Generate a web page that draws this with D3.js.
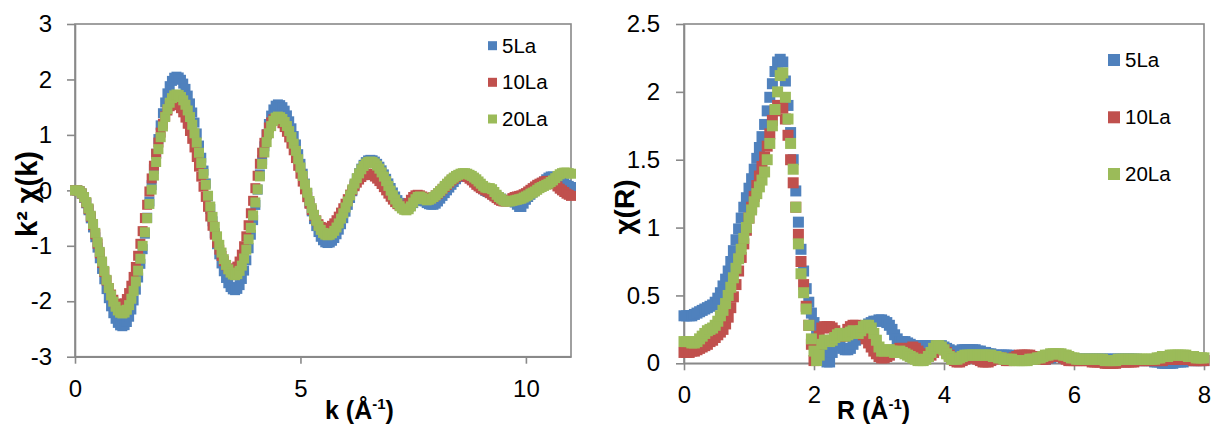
<!DOCTYPE html>
<html><head><meta charset="utf-8">
<script src="https://cdn.jsdelivr.net/npm/d3@7"></script>
<style>html,body{margin:0;padding:0;background:#fff;}svg{display:block;}</style>
</head><body>
<svg id="c" width="1211" height="425"></svg>
<script>
// ---------- data ----------
const seriesNames = ["5La", "10La", "20La"];
const seriesColors = ["#4F81BD", "#C0504D", "#9BBB59"];

// k-space, k = i * kStep (Å^-1)
const kStep = 0.05;
const k5La = [
0,0,-0.015,-0.06,-0.134,-0.234,-0.359,-0.505,-0.669,-0.846,
-1.033,-1.225,-1.417,-1.604,-1.781,-1.945,-2.091,-2.216,-2.316,-2.39,
-2.435,-2.45,-2.431,-2.374,-2.279,-2.149,-1.985,-1.791,-1.572,-1.325,
-1.061,-0.782,-0.494,-0.2,0.094,0.382,0.661,0.925,1.172,1.391,
1.585,1.749,1.879,1.974,2.031,2.05,2.036,1.994,1.925,1.83,
1.709,1.568,1.404,1.222,1.026,0.808,0.588,0.357,0.125,-0.107,
-0.338,-0.558,-0.77,-0.972,-1.154,-1.318,-1.459,-1.58,-1.675,-1.744,
-1.786,-1.8,-1.777,-1.709,-1.598,-1.447,-1.261,-1.044,-0.8,-0.537,
-0.263,0.013,0.287,0.55,0.794,1.011,1.197,1.348,1.459,1.527,
1.55,1.537,1.5,1.437,1.352,1.245,1.119,0.979,0.828,0.652,
0.478,0.3,0.122,-0.052,-0.228,-0.379,-0.519,-0.645,-0.752,-0.837,
-0.9,-0.937,-0.95,-0.94,-0.909,-0.86,-0.792,-0.709,-0.611,-0.502,
-0.385,-0.262,-0.138,-0.016,0.102,0.211,0.309,0.392,0.46,0.509,
0.54,0.55,0.542,0.518,0.478,0.426,0.361,0.288,0.208,0.125,
0.042,-0.038,-0.111,-0.176,-0.226,-0.268,-0.292,-0.3,-0.3,-0.27,
-0.23,-0.19,-0.16,-0.15,-0.17,-0.2,-0.23,-0.25,-0.26,-0.26,
-0.24,-0.2,-0.15,-0.1,-0.05,0,0.05,0.1,0.15,0.2,
0.24,0.27,0.28,0.28,0.27,0.25,0.22,0.18,0.14,0.1,
0.06,0.02,-0.01,-0.03,-0.05,-0.07,-0.09,-0.11,-0.13,-0.15,
-0.17,-0.18,-0.18,-0.18,-0.19,-0.22,-0.26,-0.3,-0.3,-0.24,
-0.17,-0.12,-0.08,-0.04,0,0.04,0.08,0.12,0.16,0.2,
0.23,0.25,0.25,0.24,0.22,0.19,0.16,0.13,0.1,0.08,
0.06];
const k10La = [
0,0,-0.014,-0.057,-0.127,-0.221,-0.338,-0.474,-0.627,-0.792,
-0.963,-1.137,-1.308,-1.473,-1.626,-1.762,-1.879,-1.973,-2.043,-2.086,
-2.1,-2.084,-2.037,-1.96,-1.853,-1.72,-1.561,-1.382,-1.18,-0.964,
-0.736,-0.5,-0.26,-0.02,0.215,0.444,0.66,0.862,1.041,1.2,
1.333,1.44,1.517,1.565,1.58,1.569,1.536,1.482,1.407,1.312,
1.201,1.071,0.929,0.774,0.602,0.429,0.248,0.065,-0.118,-0.297,
-0.472,-0.639,-0.799,-0.945,-1.07,-1.184,-1.277,-1.351,-1.406,-1.439,
-1.45,-1.431,-1.375,-1.284,-1.16,-1.008,-0.829,-0.629,-0.413,-0.189,
0.039,0.263,0.479,0.679,0.857,1.01,1.134,1.225,1.281,1.3,
1.29,1.26,1.21,1.141,1.056,0.955,0.843,0.723,0.582,0.442,
0.3,0.158,0.018,-0.123,-0.243,-0.355,-0.456,-0.541,-0.61,-0.66,
-0.69,-0.7,-0.693,-0.673,-0.64,-0.595,-0.539,-0.474,-0.401,-0.323,
-0.241,-0.159,-0.077,0.001,0.074,0.139,0.195,0.24,0.273,0.293,
0.3,0.294,0.277,0.249,0.212,0.167,0.115,0.058,0,-0.059,
-0.115,-0.167,-0.212,-0.249,-0.277,-0.294,-0.3,-0.28,-0.23,-0.17,
-0.12,-0.09,-0.08,-0.09,-0.11,-0.13,-0.14,-0.15,-0.14,-0.12,
-0.09,-0.06,-0.02,0.02,0.06,0.1,0.14,0.18,0.21,0.24,
0.26,0.27,0.27,0.26,0.24,0.21,0.18,0.14,0.1,0.07,
0.04,0.02,0,-0.02,-0.05,-0.08,-0.11,-0.14,-0.17,-0.19,
-0.2,-0.2,-0.19,-0.17,-0.14,-0.12,-0.11,-0.1,-0.09,-0.07,
-0.05,-0.02,0.01,0.04,0.07,0.1,0.12,0.14,0.16,0.17,
0.17,0.16,0.14,0.11,0.07,0.03,0,-0.03,-0.06,-0.08,
-0.1];
const k20La = [
0,0,-0.014,-0.054,-0.121,-0.212,-0.325,-0.458,-0.606,-0.767,
-0.936,-1.11,-1.284,-1.453,-1.614,-1.762,-1.895,-2.008,-2.099,-2.166,
-2.206,-2.22,-2.203,-2.153,-2.07,-1.955,-1.812,-1.642,-1.449,-1.233,
-1.001,-0.756,-0.503,-0.245,0.013,0.266,0.511,0.743,0.959,1.152,
1.322,1.465,1.58,1.663,1.713,1.73,1.718,1.683,1.624,1.544,
1.441,1.322,1.183,1.029,0.863,0.678,0.492,0.297,0.1,-0.097,
-0.292,-0.478,-0.658,-0.829,-0.983,-1.122,-1.241,-1.344,-1.424,-1.483,
-1.518,-1.53,-1.511,-1.452,-1.358,-1.229,-1.07,-0.884,-0.676,-0.452,
-0.218,0.018,0.252,0.476,0.684,0.87,1.029,1.158,1.253,1.311,
1.33,1.319,1.287,1.233,1.16,1.068,0.961,0.841,0.712,0.562,
0.412,0.26,0.108,-0.042,-0.192,-0.321,-0.441,-0.548,-0.64,-0.713,
-0.767,-0.799,-0.81,-0.801,-0.774,-0.73,-0.67,-0.596,-0.51,-0.413,
-0.309,-0.2,-0.09,0.019,0.123,0.22,0.306,0.38,0.44,0.484,
0.511,0.52,0.512,0.486,0.446,0.391,0.324,0.248,0.166,0.08,
-0.006,-0.088,-0.164,-0.231,-0.286,-0.326,-0.351,-0.36,-0.34,-0.29,
-0.22,-0.16,-0.12,-0.11,-0.13,-0.16,-0.18,-0.17,-0.15,-0.12,
-0.09,-0.05,-0.01,0.03,0.08,0.12,0.16,0.2,0.23,0.26,
0.28,0.3,0.31,0.31,0.3,0.28,0.26,0.23,0.2,0.16,
0.12,0.08,0.05,0.04,0.04,0.02,-0.03,-0.08,-0.12,-0.15,
-0.18,-0.2,-0.2,-0.2,-0.19,-0.18,-0.17,-0.16,-0.15,-0.13,
-0.11,-0.09,-0.06,-0.04,-0.02,0.01,0.04,0.06,0.08,0.1,
0.12,0.15,0.18,0.22,0.26,0.29,0.31,0.32,0.32,0.31,
0.3];

// R-space, R = i * rStep
const rStep = 0.04;
const r5La = [
0.35,0.35,0.35,0.35,0.36,0.37,0.38,0.39,0.4,0.41,
0.42,0.43,0.45,0.48,0.52,0.57,0.62,0.68,0.75,0.83,
0.91,0.99,1.07,1.15,1.22,1.29,1.36,1.43,1.51,1.59,
1.67,1.76,1.86,1.96,2.06,2.15,2.22,2.24,2.22,2.08,
1.9,1.7,1.5,1.27,1.04,0.84,0.68,0.55,0.45,0.37,
0.3,0.23,0.16,0.09,0.04,0.01,0.01,0.08,0.14,0.15,
0.13,0.11,0.1,0.1,0.11,0.14,0.17,0.2,0.23,0.25,
0.27,0.29,0.3,0.31,0.31,0.32,0.32,0.31,0.3,0.28,
0.25,0.21,0.18,0.16,0.16,0.16,0.15,0.14,0.13,0.12,
0.12,0.13,0.13,0.13,0.13,0.13,0.13,0.13,0.13,0.13,
0.12,0.11,0.1,0.09,0.08,0.08,0.09,0.1,0.1,0.1,
0.1,0.1,0.1,0.09,0.09,0.08,0.08,0.07,0.07,0.06,
0.06,0.06,0.06,0.06,0.06,0.06,0.05,0.05,0.05,0.05,
0.04,0.04,0.04,0.04,0.03,0.03,0.03,0.03,0.03,0.03,
0.04,0.04,0.05,0.05,0.05,0.05,0.04,0.04,0.04,0.03,
0.03,0.03,0.03,0.03,0.03,0.03,0.03,0.03,0.03,0.03,
0.03,0.03,0.03,0.03,0.03,0.03,0.03,0.03,0.03,0.03,
0.03,0.03,0.03,0.03,0.03,0.02,0.02,0.02,0.02,0.02,
0.02,0.01,0.01,0.01,0,0,0,0,0,0.01,
0.01,0.01,0.01,0.02,0.02,0.02,0.02,0.02,0.02,0.02,
0.02];
const r10La = [
0.08,0.08,0.08,0.09,0.09,0.1,0.11,0.12,0.13,0.14,
0.16,0.17,0.19,0.21,0.23,0.25,0.29,0.34,0.41,0.49,
0.58,0.68,0.78,0.88,0.98,1.07,1.15,1.23,1.31,1.38,
1.45,1.52,1.6,1.69,1.79,1.86,1.9,1.9,1.88,1.8,
1.68,1.5,1.33,1.15,0.95,0.75,0.58,0.42,0.28,0.14,
0.02,0.08,0.2,0.26,0.27,0.27,0.27,0.26,0.24,0.22,
0.2,0.2,0.22,0.25,0.27,0.28,0.28,0.27,0.24,0.21,
0.18,0.15,0.12,0.09,0.07,0.05,0.04,0.04,0.05,0.06,
0.08,0.09,0.1,0.11,0.11,0.1,0.1,0.11,0.12,0.11,
0.09,0.07,0.06,0.05,0.05,0.06,0.08,0.1,0.11,0.11,
0.1,0.08,0.06,0.04,0.02,0.01,0.01,0.02,0.03,0.04,
0.05,0.05,0.04,0.03,0.02,0.01,0.01,0.01,0.02,0.03,
0.04,0.04,0.04,0.03,0.02,0.02,0.03,0.04,0.05,0.06,
0.06,0.06,0.06,0.06,0.05,0.05,0.04,0.03,0.03,0.03,
0.04,0.05,0.06,0.06,0.06,0.05,0.04,0.03,0.02,0.02,
0.02,0.02,0.02,0.02,0.02,0.02,0.02,0.01,0.01,0.01,
0.01,0.01,0,0,0,0,0,0.01,0.01,0.01,
0.01,0.01,0.01,0.01,0.02,0.02,0.02,0.02,0.02,0.02,
0.02,0.02,0.02,0.02,0.02,0.03,0.03,0.03,0.03,0.03,
0.03,0.03,0.03,0.03,0.03,0.03,0.02,0.02,0.02,0.02,
0.02];
const r20La = [
0.16,0.16,0.16,0.15,0.15,0.16,0.18,0.2,0.22,0.24,
0.25,0.26,0.28,0.31,0.35,0.39,0.44,0.5,0.56,0.63,
0.7,0.77,0.84,0.92,1.0,1.07,1.13,1.19,1.25,1.3,
1.35,1.41,1.5,1.62,1.75,1.87,2.0,2.12,2.14,1.96,
1.8,1.62,1.43,1.15,0.88,0.66,0.52,0.4,0.28,0.18,
0.09,0.02,0.06,0.14,0.17,0.17,0.16,0.17,0.19,0.21,
0.22,0.21,0.2,0.21,0.23,0.24,0.23,0.22,0.24,0.27,
0.28,0.28,0.26,0.22,0.17,0.12,0.09,0.09,0.1,0.1,
0.09,0.08,0.08,0.09,0.08,0.07,0.06,0.05,0.04,0.03,
0.02,0.02,0.02,0.03,0.05,0.08,0.11,0.13,0.13,0.12,
0.1,0.07,0.05,0.03,0.03,0.03,0.04,0.05,0.06,0.06,
0.06,0.06,0.06,0.06,0.06,0.06,0.06,0.06,0.06,0.05,
0.05,0.04,0.04,0.03,0.03,0.03,0.03,0.02,0.02,0.02,
0.02,0.02,0.02,0.03,0.03,0.03,0.04,0.04,0.05,0.06,
0.06,0.07,0.07,0.07,0.07,0.07,0.06,0.06,0.05,0.04,
0.04,0.03,0.03,0.03,0.03,0.03,0.03,0.03,0.03,0.03,
0.03,0.03,0.02,0.02,0.02,0.02,0.02,0.03,0.03,0.03,
0.03,0.03,0.03,0.03,0.03,0.03,0.03,0.03,0.03,0.03,
0.03,0.03,0.04,0.04,0.05,0.05,0.05,0.06,0.06,0.06,
0.06,0.06,0.06,0.06,0.05,0.05,0.05,0.04,0.04,0.04,
0.04];

const kXTicks = [0, 5, 10];
const kYTicks = [-3, -2, -1, 0, 1, 2, 3];
const rXTicks = [0, 2, 4, 6, 8];
const rYTicks = [0, 0.5, 1, 1.5, 2, 2.5];

// ---------- drawing ----------
const FONT = '"Liberation Sans", Arial, sans-serif';
const AX = "#898989";
const svg = d3.select("#c");

function panel(cfg) {
  const x = d3.scaleLinear().domain(cfg.xDomain).range([cfg.left, cfg.right]);
  const y = d3.scaleLinear().domain(cfg.yDomain).range([cfg.bottom, cfg.top]);
  const g = svg.append("g");

  g.append("rect")
    .attr("x", cfg.left).attr("y", cfg.top)
    .attr("width", cfg.right - cfg.left).attr("height", cfg.bottom - cfg.top)
    .attr("fill", "none").attr("stroke", AX).attr("stroke-width", 1.6);

  const ya = g.append("g").attr("transform", `translate(${cfg.left},0)`)
    .call(d3.axisLeft(y).tickValues(cfg.yTicks).tickFormat(d => String(d))
      .tickSize(8).tickSizeOuter(0).tickPadding(cfg.yPad));
  const xa = g.append("g").attr("transform", `translate(0,${cfg.bottom})`)
    .call(d3.axisBottom(x).tickValues(cfg.xTicks).tickFormat(d => String(d))
      .tickSize(7).tickSizeOuter(0).tickPadding(16));
  [ya, xa].forEach(a => {
    a.attr("font-family", FONT).attr("font-size", cfg.tickFont);
    a.selectAll("path,line").attr("stroke", AX).attr("stroke-width", 1.6);
    a.selectAll("text").attr("fill", "#000");
  });

  cfg.series.forEach((vals, si) => {
    g.append("g").attr("fill", seriesColors[si])
      .selectAll("rect").data(vals).join("rect")
      .attr("x", (d, i) => x(i * cfg.step) - cfg.ms / 2)
      .attr("y", d => y(d) - cfg.ms / 2)
      .attr("width", cfg.ms).attr("height", cfg.ms);
  });

  // legend
  const lg = g.append("g");
  seriesNames.forEach((name, si) => {
    const cy = cfg.legY[si];
    lg.append("rect").attr("x", cfg.legX).attr("y", cy - cfg.legS / 2)
      .attr("width", cfg.legS).attr("height", cfg.legS).attr("fill", seriesColors[si]);
    lg.append("text").attr("x", cfg.legX + cfg.legS + 5).attr("y", cy)
      .attr("dy", "0.35em").attr("font-family", FONT).attr("font-size", 20.5)
      .attr("fill", "#000").text(name);
  });

  // x title
  const xt = g.append("text").attr("x", cfg.xTitleX).attr("y", 419)
    .attr("font-family", FONT).attr("font-weight", "bold").attr("font-size", 25).attr("fill", "#000");
  xt.append("tspan").text(cfg.xTitleMain + " (Å");
  xt.append("tspan").attr("dy", -10).attr("font-size", 15).text("-1");
  xt.append("tspan").attr("dy", 10).text(")");

  // y title
  g.append("text")
    .attr("transform", `translate(${cfg.yTitleX},${cfg.yTitleY}) rotate(-90)`)
    .attr("text-anchor", "middle").attr("dy", "0.35em")
    .attr("font-family", FONT).attr("font-weight", "bold").attr("font-size", cfg.yTitleFont)
    .attr("fill", "#000").text(cfg.yTitle);
}

panel({
  left: 75, right: 571, top: 24, bottom: 356.7,
  xDomain: [0, 11], yDomain: [-3, 3],
  xTicks: kXTicks, yTicks: kYTicks, yPad: 15, tickFont: 24,
  step: kStep, ms: 10, series: [k5La, k10La, k20La],
  legX: 488, legS: 9, legY: [45.7, 82.3, 119],
  xTitleX: 325, xTitleMain: "k",
  yTitleX: 27, yTitleY: 194, yTitle: "k² χ(k)", yTitleFont: 29
});

panel({
  left: 684, right: 1204, top: 24, bottom: 363.3,
  xDomain: [0, 8], yDomain: [0, 2.5],
  xTicks: rXTicks, yTicks: rYTicks, yPad: 16, tickFont: 24,
  step: rStep, ms: 11, series: [r5La, r10La, r20La],
  legX: 1108, legS: 12, legY: [60, 117.3, 174],
  xTitleX: 837, xTitleMain: "R",
  yTitleX: 624, yTitleY: 207, yTitle: "χ(R)", yTitleFont: 28
});
</script>
</body></html>
